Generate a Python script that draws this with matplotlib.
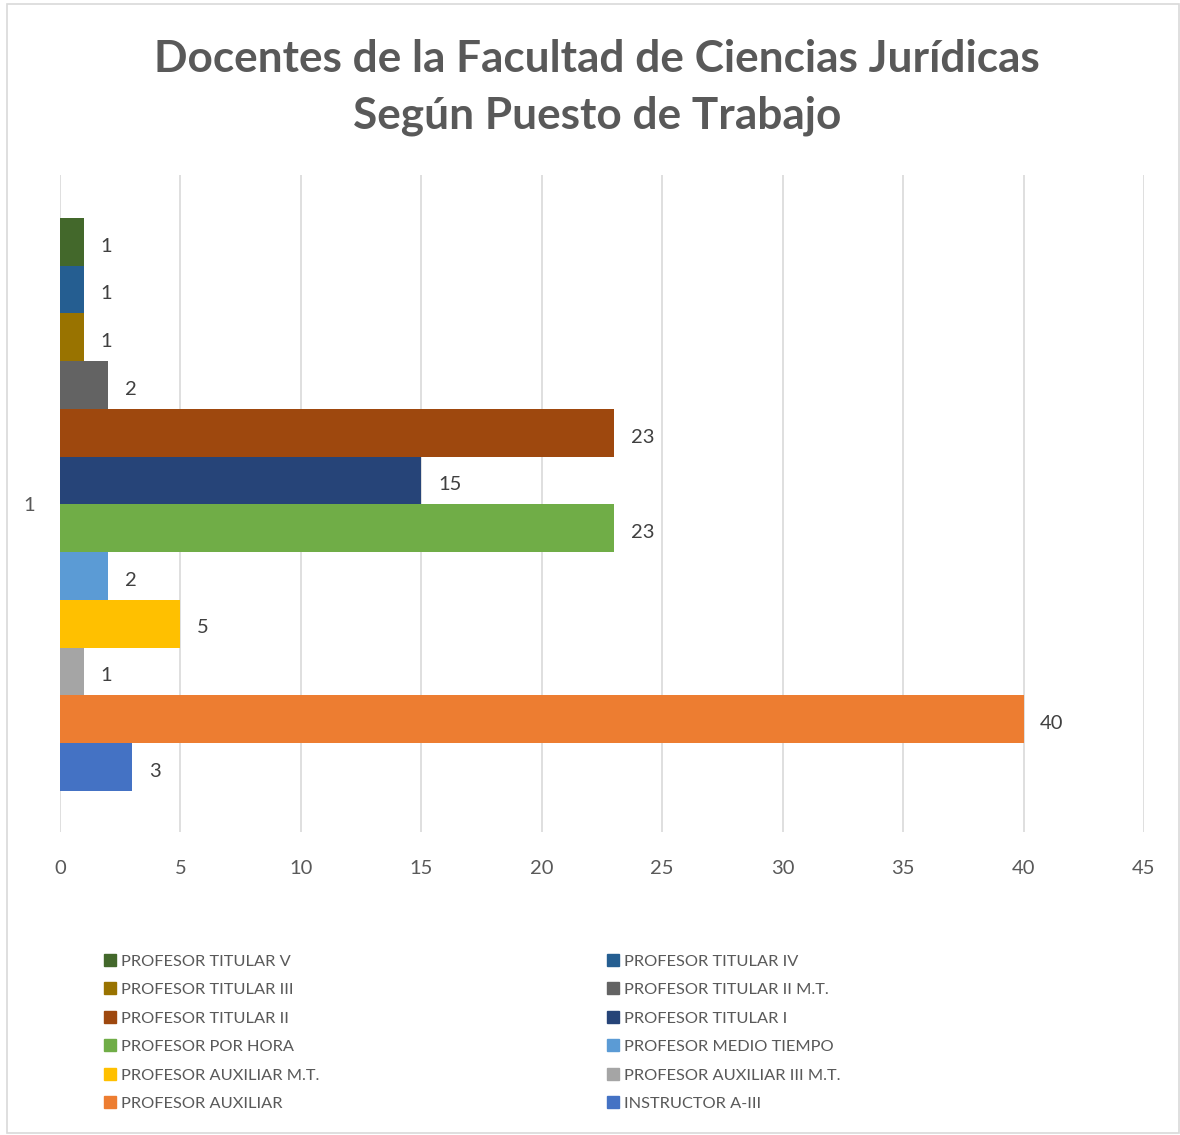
import matplotlib.pyplot as plt
from matplotlib.patches import Rectangle, Patch

# series, bottom to top (Excel draws series 1 at the bottom)
names = ["INSTRUCTOR A-III", "PROFESOR AUXILIAR", "PROFESOR AUXILIAR III M.T.",
         "PROFESOR AUXILIAR M.T.", "PROFESOR MEDIO TIEMPO", "PROFESOR POR HORA",
         "PROFESOR TITULAR I", "PROFESOR TITULAR II", "PROFESOR TITULAR II M.T.",
         "PROFESOR TITULAR III", "PROFESOR TITULAR IV", "PROFESOR TITULAR V"]
values = [3, 40, 1, 5, 2, 23, 15, 23, 2, 1, 1, 1]
colors = ["#4472C4", "#ED7D31", "#A5A5A5", "#FFC000", "#5B9BD5", "#70AD47",
          "#264478", "#9E480E", "#636363", "#997300", "#255E91", "#43682B"]
category = "1"
xticks = [0, 5, 10, 15, 20, 25, 30, 35, 40, 45]

plt.rcParams['font.family'] = ['Lato', 'DejaVu Sans']

W, H = 1180, 1135
fig = plt.figure(figsize=(W/100, H/100), dpi=100)
fig.patches.append(Rectangle((7/W, 0.002), 1 - 7/W - 0.0005, 1 - 4/H - 0.002,
                             transform=fig.transFigure, fill=False,
                             edgecolor="#D9D9D9", lw=1.2))

ax = fig.add_axes([60/W, 1 - 832/H, (1144-60)/W, (832-175)/H])

n = len(values)
pos = list(range(n))
for i in pos:
    ax.barh(i, values[i], height=1.0, color=colors[i], label=names[i])
    ax.annotate(str(values[i]), (values[i], i), xytext=(12, -3), textcoords="offset points",
                va="center", ha="left", fontsize=14.5, color="#404040")

ax.set_xlim(0, 45)
ax.set_ylim(-0.5 - 0.86, n - 0.5 + 0.9)
ax.set_xticks(xticks)
ax.set_yticks([(n - 1) / 2])
ax.set_yticklabels([category])
ax.grid(axis="x", color="#D9D9D9", lw=1.2)
ax.set_axisbelow(True)
for s in ax.spines.values():
    s.set_visible(False)
ax.tick_params(axis="x", length=0, pad=20, labelsize=14.5, labelcolor="#595959")
ax.tick_params(axis="y", length=0, pad=18, labelsize=14.5, labelcolor="#595959")

fig.text(597/W, 1 - 87/H, "Docentes de la Facultad de Ciencias Jurídicas\nSegún Puesto de Trabajo",
         ha="center", va="center", fontsize=31.8, fontweight="bold", color="#595959",
         linespacing=1.5)

# legend: Excel lists series in reverse, row by row in two columns
order = list(range(n))[::-1]
left = order[0::2]
right = order[1::2]
for col, x0 in ((left, 104), (right, 607)):
    handles = [Patch(color=colors[i]) for i in col]
    labels = [names[i] for i in col]
    fig.legend(handles, labels, loc="upper left", bbox_to_anchor=(x0/W, 1 - 954/H),
               frameon=False, fontsize=11.8, labelcolor="#595959", handlelength=0.75,
               handleheight=0.75, handletextpad=0.3, labelspacing=0.84,
               borderpad=0, borderaxespad=0)

fig.savefig("out.png", dpi=100)
